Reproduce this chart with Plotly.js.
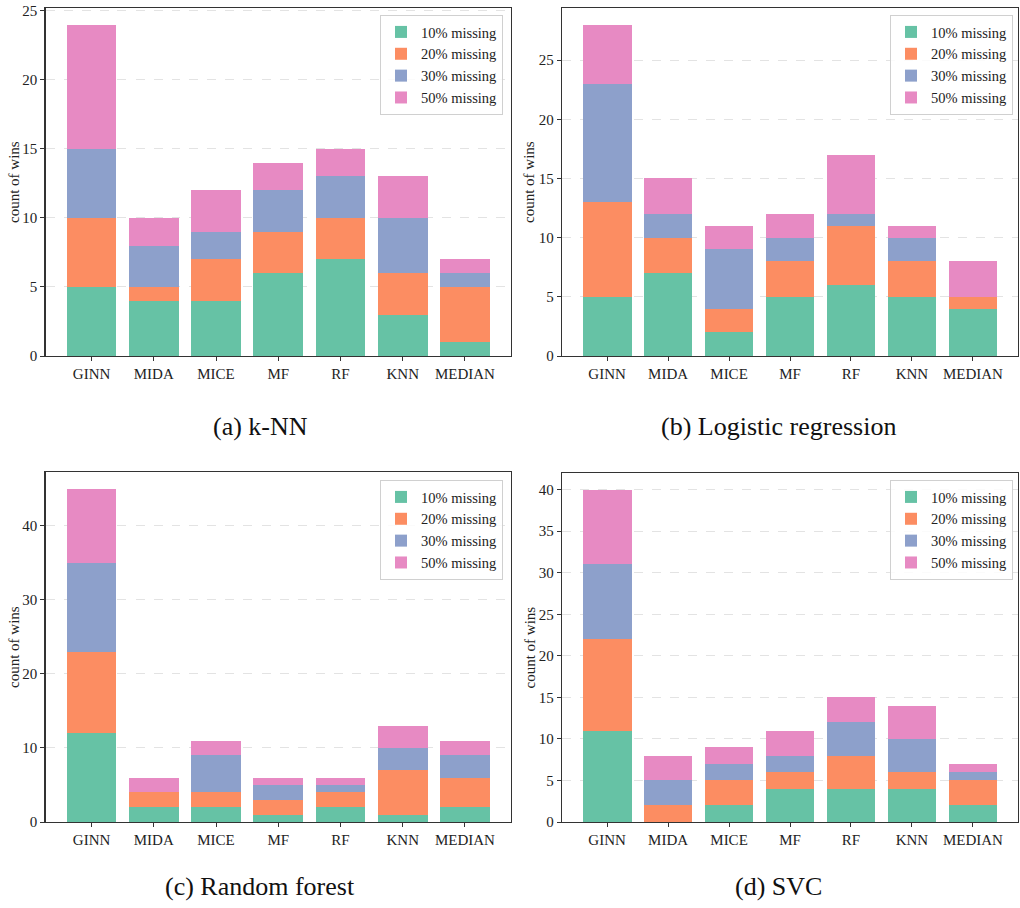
<!DOCTYPE html>
<html>
<head>
<meta charset="utf-8">
<script src="https://cdn.plot.ly/plotly-3.0.1.min.js"></script>
<style>html,body{margin:0;padding:0;background:#fff;}#chart{width:1020px;height:908px;}</style>
</head>
<body>
<div id="chart"></div>
<script>
const categories = ['GINN','MIDA','MICE','MF','RF','KNN','MEDIAN'];
const seriesNames = ['10% missing','20% missing','30% missing','50% missing'];
const seriesColors = ['#66c2a5','#fc8d62','#8da0cb','#e78ac3'];

// (a) k-NN
const knn10 = [5,4,4,6,7,3,1];
const knn20 = [5,1,3,3,3,3,4];
const knn30 = [5,3,2,3,3,4,1];
const knn50 = [9,2,3,2,2,3,1];
// (b) Logistic regression
const lr10 = [5,7,2,5,6,5,4];
const lr20 = [8,3,2,3,5,3,1];
const lr30 = [10,2,5,2,1,2,0];
const lr50 = [5,3,2,2,5,1,3];
// (c) Random forest
const rf10 = [12,2,2,1,2,1,2];
const rf20 = [11,2,2,2,2,6,4];
const rf30 = [12,0,5,2,1,3,3];
const rf50 = [10,2,2,1,1,3,2];
// (d) SVC
const svc10 = [11,0,2,4,4,4,2];
const svc20 = [11,2,3,2,4,2,3];
const svc30 = [9,3,2,2,4,4,1];
const svc50 = [9,3,2,3,3,4,1];

const panelCaptions = ['(a) k-NN','(b) Logistic regression','(c) Random forest','(d) SVC'];
const yAxisTitle = 'count of wins';

const panels = [
  {series:[knn10,knn20,knn30,knn50], ymax:25.2, dtick:5},
  {series:[lr10,lr20,lr30,lr50], ymax:29.4, dtick:5},
  {series:[rf10,rf20,rf30,rf50], ymax:47.25, dtick:10},
  {series:[svc10,svc20,svc30,svc50], ymax:42, dtick:5}
];

const W = 1020, H = 908;
const FONT = 'Liberation Serif, Times New Roman, serif';
// pixel boxes [left, right, top, bottom]
const boxes = [
  [45.5, 511, 8, 356],
  [562, 1018, 8, 356],
  [45.5, 511, 472, 822],
  [562, 1018, 473, 822]
];
const legendPos = [[503,15],[1013,15],[503,480],[1013,480]];
const captionPos = [[260,426],[778,426],[260,886],[778,886]];
const ytitleX = [14, 529, 14, 529];

const traces = [];
const layout = {
  width: W, height: H,
  margin: {l:0, r:0, t:0, b:0},
  paper_bgcolor: '#ffffff',
  plot_bgcolor: '#ffffff',
  barmode: 'stack',
  bargap: 0.2,
  showlegend: true,
  font: {family: FONT, size: 14, color: '#222'},
  annotations: []
};

panels.forEach((p, i) => {
  const n = i + 1;
  const xa = n === 1 ? 'x' : 'x' + n;
  const ya = n === 1 ? 'y' : 'y' + n;
  const lg = n === 1 ? 'legend' : 'legend' + n;
  p.series.forEach((vals, s) => {
    traces.push({
      type: 'bar',
      x: categories,
      y: vals,
      name: seriesNames[s],
      xaxis: xa, yaxis: ya,
      legend: lg,
      marker: {color: seriesColors[s], line: {width: 0}},
      hoverinfo: 'x+y+name'
    });
  });
  const b = boxes[i];
  const xkey = n === 1 ? 'xaxis' : 'xaxis' + n;
  const ykey = n === 1 ? 'yaxis' : 'yaxis' + n;
  layout[xkey] = {
    domain: [b[0]/W, b[1]/W],
    anchor: ya,
    type: 'category',
    range: [-0.74, 6.74],
    showline: true, mirror: true, linecolor: '#333', linewidth: 1.2,
    ticks: 'outside', ticklen: 4, tickcolor: '#333', tickwidth: 1,
    showgrid: false, zeroline: false,
    tickfont: {family: FONT, size: 15, color: '#222'},
    fixedrange: true
  };
  layout[ykey] = {
    domain: [1 - b[3]/H, 1 - b[2]/H],
    anchor: xa,
    range: [0, p.ymax],
    dtick: p.dtick, tick0: 0,
    showline: true, mirror: true, linecolor: '#333', linewidth: 1.2,
    ticks: 'outside', ticklen: 4, tickcolor: '#333', tickwidth: 1,
    showgrid: true, gridcolor: '#e3e3e3', griddash: 'dash', gridwidth: 1,
    zeroline: false,
    tickfont: {family: FONT, size: 15, color: '#222'},
    fixedrange: true
  };
  layout[lg] = {
    x: legendPos[i][0]/W, y: 1 - legendPos[i][1]/H,
    xanchor: 'right', yanchor: 'top',
    xref: 'paper', yref: 'paper',
    bgcolor: 'rgba(255,255,255,0.85)',
    bordercolor: '#d0d0d0', borderwidth: 1,
    font: {family: FONT, size: 14.5, color: '#222'},
    tracegroupgap: 0,
    itemwidth: 30,
    traceorder: 'normal'
  };
  layout.annotations.push({
    text: panelCaptions[i],
    xref: 'paper', yref: 'paper',
    x: captionPos[i][0]/W, y: 1 - captionPos[i][1]/H,
    xanchor: 'center', yanchor: 'middle',
    showarrow: false,
    font: {family: FONT, size: 26, color: '#111'}
  });
  layout.annotations.push({
    text: yAxisTitle,
    xref: 'paper', yref: 'paper',
    x: ytitleX[i]/W, y: 1 - ((b[2]+b[3])/2)/H,
    xanchor: 'center', yanchor: 'middle',
    textangle: -90,
    showarrow: false,
    font: {family: FONT, size: 15, color: '#222'}
  });
});

Plotly.newPlot('chart', traces, layout, {displayModeBar: false, staticPlot: true});
</script>
</body>
</html>
